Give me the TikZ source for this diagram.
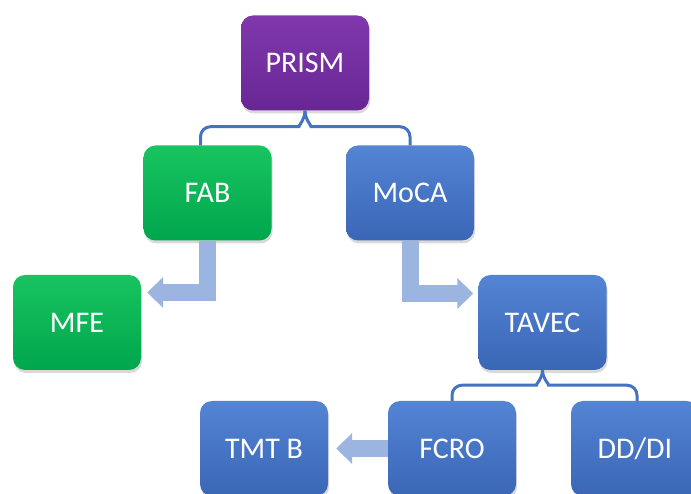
\documentclass[tikz,border=0pt]{standalone}
\usepackage{fontspec}
\setmainfont{Carlito}
\usetikzlibrary{arrows.meta,shadows}

\definecolor{purpletop}{RGB}{128,56,172}
\definecolor{purplebot}{RGB}{104,38,148}
\definecolor{greentop}{RGB}{24,196,96}
\definecolor{greenbot}{RGB}{0,166,76}
\definecolor{bluetop}{RGB}{84,132,212}
\definecolor{bluebot}{RGB}{58,102,182}
\definecolor{linkblue}{RGB}{68,114,196}
\definecolor{fatblue}{RGB}{155,180,224}

\begin{document}
\begin{tikzpicture}[x=1pt,y=1pt,
  box/.style={rounded corners=12pt, minimum width=128pt, minimum height=95pt,
    text=white, font=\fontsize{30}{32}\selectfont,
    drop shadow={shadow xshift=1pt, shadow yshift=-3pt, opacity=.3}},
  purplebox/.style={box, top color=purpletop, bottom color=purplebot},
  greenbox/.style={box, top color=greentop, bottom color=greenbot},
  bluebox/.style={box, top color=bluetop, bottom color=bluebot},
  brace/.style={draw=linkblue, line width=3pt, rounded corners=10pt},
  fat/.style={draw=fatblue, line width=17pt, line join=miter,
    -{Triangle[length=16pt,width=30pt]}}]
\useasboundingbox (0,0) rectangle (691,493);

% boxes
\node[purplebox] (prism) at (305,430) {PRISM};
\node[greenbox] (fab) at (207.5,300) {FAB};
\node[bluebox] (moca) at (410,300) {MoCA};
\node[greenbox] (mfe) at (77,170.5) {MFE};
\node[bluebox] (tavec) at (542.5,170.5) {TAVEC};
\node[bluebox] (tmtb) at (264,44.5) {TMT B};
\node[bluebox] (fcro) at (452,44.5) {FCRO};
\node[bluebox] (dddi) at (635,44.5) {DD/DI};

% braces
\draw[brace] (prism.south) to[out=-90,in=0] ++(-16,-16) -| ([xshift=-7pt]fab.north);
\draw[brace] (prism.south) to[out=-90,in=180] ++(16,-16) -| (moca.north);
\draw[brace] (tavec.south) to[out=-90,in=0] ++(-16,-15) -| (fcro.north);
\draw[brace] (tavec.south) to[out=-90,in=180] ++(16,-15) -| ([xshift=2pt]dddi.north);

% block arrows
\draw[fat, shorten >=6pt] (fab.south) |- ([yshift=30pt]mfe.east);
\draw[fat, shorten >=5pt] (moca.south) |- ([yshift=29pt]tavec.west);
\draw[fat, shorten >=8pt] (fcro.west) -- (tmtb.east);
\end{tikzpicture}
\end{document}
